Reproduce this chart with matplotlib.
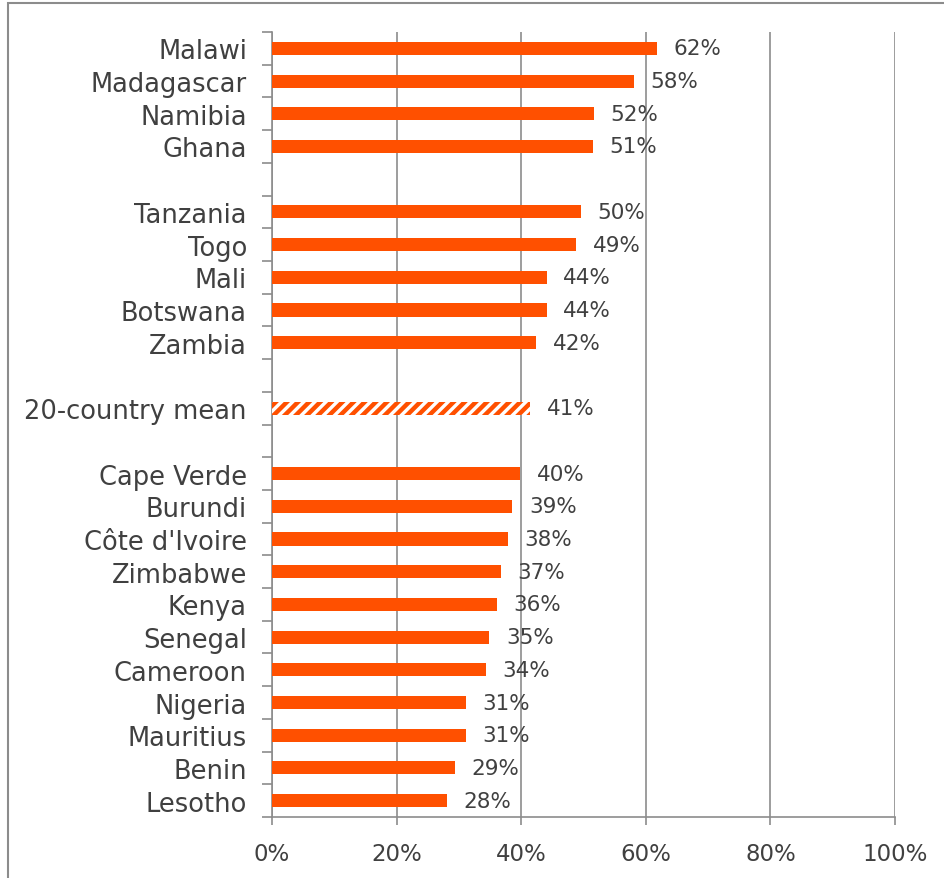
import matplotlib
matplotlib.use("Agg")
import matplotlib.pyplot as plt
from matplotlib.patches import Rectangle

# top to bottom, None = empty slot
countries = ["Malawi", "Madagascar", "Namibia", "Ghana", None,
             "Tanzania", "Togo", "Mali", "Botswana", "Zambia", None,
             "20-country mean", None,
             "Cape Verde", "Burundi", "Côte d'Ivoire", "Zimbabwe", "Kenya",
             "Senegal", "Cameroon", "Nigeria", "Mauritius", "Benin", "Lesotho"]
values = [61.8, 58.1, 51.7, 51.5, None,
          49.6, 48.8, 44.1, 44.1, 42.4, None,
          41.4, None,
          39.8, 38.6, 37.9, 36.7, 36.1, 34.9, 34.3, 31.1, 31.1, 29.4, 28.1]
labels = ["62%", "58%", "52%", "51%", None,
          "50%", "49%", "44%", "44%", "42%", None,
          "41%", None,
          "40%", "39%", "38%", "37%", "36%", "35%", "34%", "31%", "31%", "29%", "28%"]
mean_name = "20-country mean"

orange = "#FF5000"
text_col = "#404040"
grid_col = "#8C8C8C"

plt.rcParams['font.family'] = ['DejaVu Sans']
plt.rcParams['hatch.linewidth'] = 3.2

fig = plt.figure(figsize=(9.45, 8.79), dpi=100)
ax = fig.add_axes([272/945, 1 - 818/879, 623/945, 785/879])

n = len(countries)
ypos = [n - 1 - i for i in range(n)]

for y, name, v, lab in zip(ypos, countries, values, labels):
    if name is None:
        continue
    if name == mean_name:
        ax.barh(y, v, height=0.4, color="white", edgecolor=orange,
                hatch="///", linewidth=0, zorder=3)
    else:
        ax.barh(y, v, height=0.4, color=orange, zorder=3)
    ax.annotate(lab, (v, y), xytext=(12, 0), textcoords="offset points",
                va="center", ha="left", fontsize=15.5, color=text_col, zorder=4)

ax.set_xlim(0, 100)
ax.set_ylim(-0.5, n - 0.5)
ax.set_xticks([0, 20, 40, 60, 80, 100])
ax.set_xticklabels(["0%", "20%", "40%", "60%", "80%", "100%"])

ticks = [y for y, c in zip(ypos, countries) if c is not None]
ax.set_yticks(ticks)
ax.set_yticklabels([c for c in countries if c is not None])
ax.set_yticks([i - 0.5 for i in range(n + 1)], minor=True)

ax.tick_params(axis="y", which="major", length=0, pad=18, labelsize=18.5, labelcolor=text_col)
ax.tick_params(axis="y", which="minor", length=7, width=1.2, color=grid_col)
ax.tick_params(axis="x", which="major", length=6, width=1.2, color=grid_col,
               direction="out", pad=12, labelsize=16.5, labelcolor=text_col)

ax.grid(axis="x", color=grid_col, linewidth=1.2, zorder=0)
ax.set_axisbelow(True)
for s in ["top", "right"]:
    ax.spines[s].set_visible(False)
for s in ["left", "bottom"]:
    ax.spines[s].set_color(grid_col)
    ax.spines[s].set_linewidth(1.2)

# outer chart border (right and bottom edges fall outside the picture)
fig.patches.append(Rectangle((8/945, -0.1), 1.2, 1 - 4/879 + 0.1,
                             transform=fig.transFigure, fill=False,
                             edgecolor=grid_col, linewidth=1.5))

fig.savefig("out.png", dpi=100)
